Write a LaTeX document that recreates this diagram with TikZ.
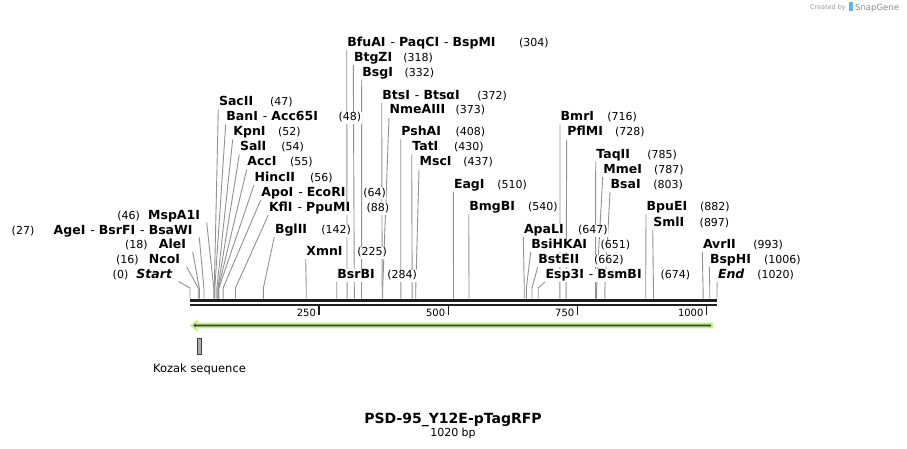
\documentclass[tikz,border=0pt]{standalone}
\usepackage{fontspec}
\setmainfont{DejaVu Sans}
\usetikzlibrary{positioning,backgrounds}

\definecolor{linegray}{RGB}{145,145,145}
\definecolor{bardark}{RGB}{30,30,30}
\definecolor{featgreen}{RGB}{190,242,130}
\definecolor{featdark}{RGB}{60,60,60}
\definecolor{kozakgray}{RGB}{165,172,180}
\definecolor{snapblue}{RGB}{90,185,235}

\newcommand{\dsh}{\hspace{5pt}{\mdseries -}\hspace{4pt}}

\begin{document}
\begin{tikzpicture}[
    x=1pt, y=-1pt,
    enz/.style={
        inner sep=0.5pt,
        fill=white,
        font=\fontsize{12.5}{14}\selectfont\bfseries,
        text height=9.2pt,
        text depth=2.8pt,
    },
    bpnum/.style={
        inner sep=0.5pt,
        fill=white,
        font=\fontsize{11}{13}\selectfont,
        text height=8.5pt,
        text depth=2.5pt,
    },
    siteline/.style={
        draw=linegray,
        line width=0.9pt,
    },
    tickmark/.style={
        draw=bardark,
        line width=1.4pt,
    },
    ticklbl/.style={
        inner sep=0pt,
        font=\fontsize{10}{12}\selectfont,
    },
    kozak/.style={
        rectangle,
        draw=black!75,
        fill=kozakgray,
        line width=0.8pt,
        inner sep=0pt,
        minimum width=4.4pt,
        minimum height=15.7pt,
    },
]

\useasboundingbox (0,0) rectangle (907,449);

% cut sites on the sequence bar
\foreach \nm/\bp in {Start/0, NcoI/16, AleI/18, AgeI/27, MspA1I/46, SacII/47, BanI/48,
    KpnI/52, SalI/54, AccI/55, HincII/56, ApoI/64, KflI/88, BglII/142, XmnI/225,
    BsrBI/284, BfuAI/304, BtgZI/318, BsgI/332, BtsI/372, NmeAIII/373, PshAI/408,
    TatI/430, MscI/437, EagI/510, BmgBI/540, ApaLI/647, BsiHKAI/651, BstEII/662,
    Esp3I/674, BmrI/716, PflMI/728, TaqII/785, MmeI/787, BsaI/803, BpuEI/882,
    SmlI/897, AvrII/993, BspHI/1006, End/1020}
{
    \coordinate (s\nm) at ({190+\bp*0.51667},298.5);
    \coordinate (k\nm) at ({190+\bp*0.51667},288);
}

% labels left of the bar
\node[enz, anchor=base east] (lMspA1I) at (200.7,219) {MspA1I};
\node[bpnum, anchor=base east] (nMspA1I) at (140.7,219) {(46)};
\node[enz, anchor=base east] (lAgeI) at (193.3,234) {AgeI\dsh BsrFI\dsh BsaWI};
\node[bpnum, anchor=base east] (nAgeI) at (35,234) {(27)};
\node[enz, anchor=base east] (lAleI) at (186.7,248.5) {AleI};
\node[bpnum, anchor=base east] (nAleI) at (148.3,248.5) {(18)};
\node[enz, anchor=base east] (lNcoI) at (180.7,263.5) {NcoI};
\node[bpnum, anchor=base east] (nNcoI) at (139.3,263.5) {(16)};
\node[enz, anchor=base east] (lStart) at (172.7,278) {\itshape Start};
\node[bpnum, anchor=base east] (nStart) at (129,278) {(0)};

% labels of the left cluster
\node[enz, anchor=base west] (lSacII) at (218.3,106) {SacII};
\node[bpnum, anchor=base west] (nSacII) at (269.3,106) {(47)};
\node[enz, anchor=base west] (lBanI) at (225.7,121) {BanI\dsh Acc65I};
\node[bpnum, anchor=base west] (nBanI) at (338,121) {(48)};
\node[enz, anchor=base west] (lKpnI) at (232.7,136) {KpnI};
\node[bpnum, anchor=base west] (nKpnI) at (277.3,136) {(52)};
\node[enz, anchor=base west] (lSalI) at (239.3,151) {SalI};
\node[bpnum, anchor=base west] (nSalI) at (280.7,151) {(54)};
\node[enz, anchor=base west] (lAccI) at (246.7,166) {AccI};
\node[bpnum, anchor=base west] (nAccI) at (289.3,166) {(55)};
\node[enz, anchor=base west] (lHincII) at (254,181.5) {HincII};
\node[bpnum, anchor=base west] (nHincII) at (309.3,181.5) {(56)};
\node[enz, anchor=base west] (lApoI) at (260.7,196.5) {ApoI\dsh EcoRI};
\node[bpnum, anchor=base west] (nApoI) at (362.7,196.5) {(64)};
\node[enz, anchor=base west] (lKflI) at (268.3,211.5) {KflI\dsh PpuMI};
\node[bpnum, anchor=base west] (nKflI) at (366,211.5) {(88)};
\node[enz, anchor=base west] (lBglII) at (274.3,233.5) {BglII};
\node[bpnum, anchor=base west] (nBglII) at (320.7,233.5) {(142)};
\node[enz, anchor=base west] (lXmnI) at (305.7,255.5) {XmnI};
\node[bpnum, anchor=base west] (nXmnI) at (356.7,255.5) {(225)};
\node[enz, anchor=base west] (lBsrBI) at (336.7,278.5) {BsrBI};
\node[bpnum, anchor=base west] (nBsrBI) at (386.7,278.5) {(284)};

% labels of the middle
\node[enz, anchor=base west] (lBfuAI) at (346.7,46.5) {BfuAI\dsh PaqCI\dsh BspMI};
\node[bpnum, anchor=base west] (nBfuAI) at (518.3,46.5) {(304)};
\node[enz, anchor=base west] (lBtgZI) at (353.3,61.5) {BtgZI};
\node[bpnum, anchor=base west] (nBtgZI) at (402.7,61.5) {(318)};
\node[enz, anchor=base west] (lBsgI) at (361.7,76.5) {BsgI};
\node[bpnum, anchor=base west] (nBsgI) at (404,76.5) {(332)};
\node[enz, anchor=base west] (lBtsI) at (381.7,99.5) {BtsI\dsh BtsαI};
\node[bpnum, anchor=base west] (nBtsI) at (476.7,99.5) {(372)};
\node[enz, anchor=base west] (lNmeAIII) at (389,114) {NmeAIII};
\node[bpnum, anchor=base west] (nNmeAIII) at (455,114) {(373)};
\node[enz, anchor=base west] (lPshAI) at (400.7,136) {PshAI};
\node[bpnum, anchor=base west] (nPshAI) at (455,136) {(408)};
\node[enz, anchor=base west] (lTatI) at (411.7,151) {TatI};
\node[bpnum, anchor=base west] (nTatI) at (453.3,151) {(430)};
\node[enz, anchor=base west] (lMscI) at (419,166) {MscI};
\node[bpnum, anchor=base west] (nMscI) at (462.7,166) {(437)};
\node[enz, anchor=base west] (lEagI) at (453.3,188.5) {EagI};
\node[bpnum, anchor=base west] (nEagI) at (496.7,188.5) {(510)};
\node[enz, anchor=base west] (lBmgBI) at (468.7,211) {BmgBI};
\node[bpnum, anchor=base west] (nBmgBI) at (527.3,211) {(540)};

% labels of the right part
\node[enz, anchor=base west] (lApaLI) at (523.3,233.5) {ApaLI};
\node[bpnum, anchor=base west] (nApaLI) at (577.3,233.5) {(647)};
\node[enz, anchor=base west] (lBsiHKAI) at (530.7,248.5) {BsiHKAI};
\node[bpnum, anchor=base west] (nBsiHKAI) at (600,248.5) {(651)};
\node[enz, anchor=base west] (lBstEII) at (537.7,263.5) {BstEII};
\node[bpnum, anchor=base west] (nBstEII) at (593.3,263.5) {(662)};
\node[enz, anchor=base west] (lEsp3I) at (545,278.5) {Esp3I\dsh BsmBI};
\node[bpnum, anchor=base west] (nEsp3I) at (660,278.5) {(674)};
\node[enz, anchor=base west] (lBmrI) at (560,121) {BmrI};
\node[bpnum, anchor=base west] (nBmrI) at (606.7,121) {(716)};
\node[enz, anchor=base west] (lPflMI) at (566.7,136) {PflMI};
\node[bpnum, anchor=base west] (nPflMI) at (614.3,136) {(728)};
\node[enz, anchor=base west] (lTaqII) at (595.7,158.5) {TaqII};
\node[bpnum, anchor=base west] (nTaqII) at (646.7,158.5) {(785)};
\node[enz, anchor=base west] (lMmeI) at (602.7,173.5) {MmeI};
\node[bpnum, anchor=base west] (nMmeI) at (653.3,173.5) {(787)};
\node[enz, anchor=base west] (lBsaI) at (610,188.5) {BsaI};
\node[bpnum, anchor=base west] (nBsaI) at (652.7,188.5) {(803)};
\node[enz, anchor=base west] (lBpuEI) at (646,211) {BpuEI};
\node[bpnum, anchor=base west] (nBpuEI) at (699.3,211) {(882)};
\node[enz, anchor=base west] (lSmlI) at (652.7,226) {SmlI};
\node[bpnum, anchor=base west] (nSmlI) at (699,226) {(897)};
\node[enz, anchor=base west] (lAvrII) at (702.3,248.5) {AvrII};
\node[bpnum, anchor=base west] (nAvrII) at (752.7,248.5) {(993)};
\node[enz, anchor=base west] (lBspHI) at (709.3,263.5) {BspHI};
\node[bpnum, anchor=base west] (nBspHI) at (763.3,263.5) {(1006)};
\node[enz, anchor=base west] (lEnd) at (717.3,278.5) {\itshape End};
\node[bpnum, anchor=base west] (nEnd) at (756.7,278.5) {(1020)};

\begin{scope}[on background layer]
    \foreach \nm in {SacII, BanI, KpnI, SalI, AccI, HincII, ApoI, KflI, BglII, XmnI,
        BsrBI, BfuAI, BtgZI, BsgI, BtsI, NmeAIII, PshAI, TatI, MscI, EagI, BmgBI,
        ApaLI, BsiHKAI, BstEII, Esp3I, BmrI, PflMI, TaqII, MmeI, BsaI, BpuEI, SmlI,
        AvrII, BspHI, End}
        \draw[siteline] (l\nm.south west) -- (k\nm) -- (s\nm);
    \foreach \nm in {Start, NcoI, AleI, AgeI, MspA1I}
        \draw[siteline] ([xshift=6]l\nm.south east) -- (k\nm) -- (s\nm);
\end{scope}

% sequence bar and ruler
\draw[bardark, line width=2.7pt] (sStart |- 0,300.6) -- (sEnd |- 0,300.6);
\draw[bardark, line width=2.1pt] (sStart |- 0,305) -- (sEnd |- 0,305);
\foreach \t in {250,500,750,1000} {
    \draw[tickmark] ({190+\t*0.51667},306) -- ++(0,9);
    \node[ticklbl, anchor=base east] at ({190+\t*0.51667-3},316) {\t};
}

% feature arrow
\draw[draw=featgreen, line width=2pt, fill=featdark, line join=miter, miter limit=4]
    (712,323.6) -- (196.5,323.6) -- (196.5,321.4) -- (191.5,325.5)
    -- (196.5,329.6) -- (196.5,327.4) -- (712,327.4) -- cycle;

% Kozak sequence
\node[kozak] (kozak) at (199.5,346.2) {};
\node[below=9pt of kozak, inner sep=0pt, font=\fontsize{11.5}{13}\selectfont] (kozaklbl) {Kozak sequence};

% title
\node[anchor=base, inner sep=0pt, font=\fontsize{14}{16}\selectfont\bfseries] (title) at (453,423.3) {PSD-95\_Y12E-pTagRFP};
\node[anchor=base, inner sep=0pt, font=\fontsize{11}{13}\selectfont] (len) at (453,436.7) {1020 bp};

% credit
\node[anchor=base east, inner sep=0pt, text=black!40, font=\fontsize{6.5}{8}\selectfont] (credit) at (846,10) {Created by};
\fill[snapblue] (849,2.5) rectangle (852.5,11);
\node[anchor=base west, inner sep=0pt, text=black!45, font=\fontsize{8.5}{10}\selectfont] (snapgene) at (855,10.5) {SnapGene};

\end{tikzpicture}
\end{document}
